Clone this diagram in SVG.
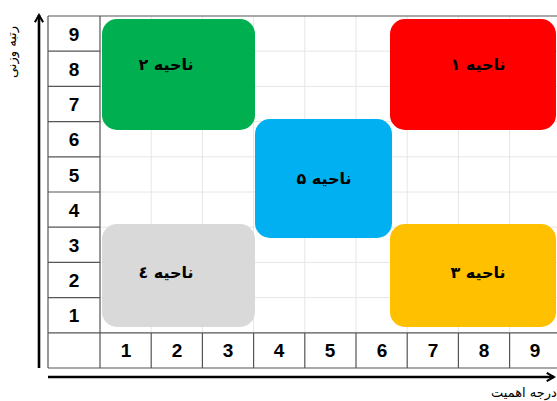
<svg xmlns="http://www.w3.org/2000/svg" width="557" height="401" viewBox="0 0 557 401">
<defs>
<style>
.grid{stroke:#e6e6e6;stroke-width:1;fill:none}
.tbl{stroke:#555;stroke-width:1.2;fill:none}
.num{font-family:"Liberation Sans",Arial,sans-serif;font-weight:bold;font-size:19px;text-anchor:middle;fill:#000}
.zone{font-family:"DejaVu Sans",sans-serif;font-weight:bold;font-size:16px;text-anchor:middle;fill:#000}
.ax{font-family:"DejaVu Sans",sans-serif;font-size:13px;fill:#000}
.axis{stroke:#000;stroke-width:2.6;fill:none}
</style>
<marker id="ah" viewBox="0 0 10 10" refX="8" refY="5" markerWidth="4" markerHeight="4" orient="auto" markerUnits="strokeWidth">
<path d="M1,1 L8,5 L1,9" fill="none" stroke="#000" stroke-width="2"/>
</marker>
</defs>
<rect width="557" height="401" fill="#fff"/>
<g id="grid">
<path class="grid" d="M151.2,16V333 M202.4,16V333 M253.6,16V333 M304.8,16V333 M356,16V333 M407.2,16V333 M458.4,16V333 M509.6,16V333 M100,51.2H557 M100,86.4H557 M100,121.6H557 M100,156.8H557 M100,192H557 M100,227.2H557 M100,262.4H557 M100,297.6H557"/>
</g>
<g id="table">
<path class="tbl" d="M48,16H557 M48,16V368 M100,16V368 M48,368H557 M48,332.8H557 M48,51.2H100 M48,86.4H100 M48,121.6H100 M48,156.8H100 M48,192H100 M48,227.2H100 M48,262.4H100 M48,297.6H100 M151.2,332.8V368 M202.4,332.8V368 M253.6,332.8V368 M304.8,332.8V368 M356,332.8V368 M407.2,332.8V368 M458.4,332.8V368 M509.6,332.8V368"/>
<text class="num" x="74" y="41">9</text>
<text class="num" x="74" y="76">8</text>
<text class="num" x="74" y="111">7</text>
<text class="num" x="74" y="146">6</text>
<text class="num" x="74" y="182">5</text>
<text class="num" x="74" y="217">4</text>
<text class="num" x="74" y="252">3</text>
<text class="num" x="74" y="287">2</text>
<text class="num" x="74" y="322">1</text>
<text class="num" x="126" y="357">1</text>
<text class="num" x="177" y="357">2</text>
<text class="num" x="228" y="357">3</text>
<text class="num" x="279" y="357">4</text>
<text class="num" x="330" y="357">5</text>
<text class="num" x="382" y="357">6</text>
<text class="num" x="433" y="357">7</text>
<text class="num" x="484" y="357">8</text>
<text class="num" x="535" y="357">9</text>
</g>
<g id="zone2"><rect x="102" y="19" width="153" height="111" rx="15" fill="#00B050"/><text class="zone" x="166" y="70" direction="rtl">ناحیه ۲</text></g>
<g id="zone1"><rect x="390" y="19" width="166" height="111" rx="15" fill="#FF0000"/><text class="zone" x="478" y="70" direction="rtl">ناحیه ۱</text></g>
<g id="zone5"><rect x="255" y="119" width="137" height="119" rx="15" fill="#00B0F0"/><text class="zone" x="324" y="184" direction="rtl">ناحیه ۵</text></g>
<g id="zone4"><rect x="102" y="224" width="153" height="103" rx="15" fill="#D9D9D9"/><text class="zone" x="166" y="278" direction="rtl">ناحیه ٤</text></g>
<g id="zone3"><rect x="390" y="224" width="166" height="103" rx="15" fill="#FFC000"/><text class="zone" x="478" y="278" direction="rtl">ناحیه ۳</text></g>
<g id="connectors">
<line class="axis" x1="39" y1="368" x2="39" y2="15" marker-end="url(#ah)"/>
<line class="axis" x1="48" y1="377" x2="554" y2="377" marker-end="url(#ah)"/>
</g>
<text class="ax" transform="translate(16,52) rotate(-90)" text-anchor="middle" direction="rtl">رتبه وزنی</text>
<text class="ax" x="491" y="397" text-anchor="start" direction="ltr" font-size="14">درجه اهمیت</text>
</svg>
